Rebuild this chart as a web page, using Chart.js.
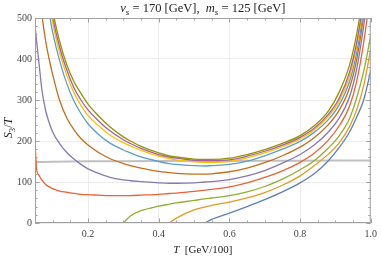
<!DOCTYPE html>
<html>
<head>
<meta charset="utf-8">
<script src="https://cdn.jsdelivr.net/npm/chart.js@4.4.1/dist/chart.umd.min.js"></script>
<style>
  html, body { margin: 0; padding: 0; background: #fff; }
  #wrap { width: 382px; height: 258px; }
</style>
</head>
<body>
<div id="wrap"><canvas id="bounce"></canvas></div>
<script>
// temperature grid (GeV/100) shared by all curves
const tGrid = [0.05, 0.055, 0.06, 0.07, 0.08, 0.09, 0.10, 0.12, 0.14, 0.16, 0.18, 0.20, 0.23, 0.26,
  0.30, 0.32, 0.35, 0.40, 0.43, 0.45, 0.50, 0.53, 0.55, 0.60, 0.65, 0.70, 0.75, 0.80, 0.84, 0.88,
  0.91, 0.94, 0.96, 0.98, 1.00];

// S3/T per curve (null = no solution there)
const sBlue = [null, null, null, null, null, null, null, null, null, null, null, null, null, null,
  null, null, null, null, null, null, null, 0, 9, 24, 40, 57, 76, 98, 120, 152, 183, 222, 258, 300, 372];
const sOrange = [null, null, null, null, null, null, null, null, null, null, null, null, null, null,
  null, null, null, null, 0, 12, 32, 39, 43, 51, 61, 74, 92, 115, 140, 168, 195, 235, 276, 335, 425];
const sGreen = [null, null, null, null, null, null, null, null, null, null, null, null, null, null,
  0, 17, 30, 41, 46, 49, 55, 59, 61, 67, 76, 89, 107, 130, 152, 183, 212, 255, 305, 370, 457];
const sRed = [195, 128, 118, 104, 94, 88, 84, 78, 75, 72, 70, 69, 68, 67, 67, 67, 68, 70, 72, 73,
  77, 80, 82, 88, 98, 111, 127, 148, 170, 202, 236, 285, 345, 440, 565];
const sPurple = [482, 440, 400, 322, 275, 245, 222, 193, 172, 156, 143, 132, 121, 112, 105, 103, 101,
  98, 97, 97, 98, 100, 101, 106, 115, 128, 146, 167, 190, 222, 255, 308, 375, 480, 610];
const sBrown = [720, 650, 590, 505, 445, 400, 362, 298, 256, 228, 206, 190, 172, 158, 145, 140, 134,
  126, 123, 121, 119, 119, 120, 125, 134, 147, 164, 185, 208, 240, 274, 330, 398, 505, 640];
const sLightBlue = [900, 820, 750, 640, 560, 512, 465, 395, 340, 298, 267, 242, 216, 196, 178, 171, 161,
  150, 145, 143, 140, 139, 140, 143, 151, 164, 180, 199, 221, 252, 287, 345, 415, 520, 650];
const sYellow = [960, 880, 800, 690, 610, 555, 490, 415, 360, 318, 287, 262, 237, 216, 196, 188, 177,
  163, 157, 154, 149, 148, 148, 150, 159, 171, 186, 205, 227, 260, 296, 358, 430, 535, 660];
const sMagenta = [990, 910, 830, 720, 630, 575, 505, 428, 373, 330, 300, 276, 249, 226, 203, 194, 182,
  167, 161, 158, 153, 152, 152, 154, 163, 175, 190, 209, 231, 265, 303, 368, 440, 545, 670];
const sOlive = [1000, 930, 860, 740, 650, 595, 522, 442, 386, 345, 316, 290, 261, 236, 210, 200, 187,
  171, 164, 161, 156, 155, 155, 158, 167, 179, 194, 213, 237, 273, 318, 385, 460, 565, 690];

// reference line
const tRef = [0.05, 0.10, 0.20, 0.40, 0.60, 0.80, 1.00];
const sRef = [148.5, 149.5, 150.5, 151, 151.5, 152, 152.5];

const xTicks = [0.2, 0.4, 0.6, 0.8, 1.0];
const yTicks = [0, 100, 200, 300, 400, 500];

const curves = [
  { s: sBlue, color: '#5E81B5' },
  { s: sOrange, color: '#E19C24' },
  { s: sGreen, color: '#8FB032' },
  { s: sRed, color: '#EB6235' },
  { s: sPurple, color: '#8778B3' },
  { s: sBrown, color: '#C56E1A' },
  { s: sLightBlue, color: '#5D9EC7' },
  { s: sYellow, color: '#FFBF00' },
  { s: sMagenta, color: '#A5609D' },
  { s: sOlive, color: '#929600' }
];

const SERIF = '"Liberation Serif", "DejaVu Serif", serif';

const datasets = curves.map((c, i) => ({
  data: tGrid.map((t, k) => ({ x: t, y: c.s[k] })),
  borderColor: c.color,
  borderWidth: 1.3,
  pointRadius: 0,
  cubicInterpolationMode: 'monotone',
  order: curves.length - i
}));
datasets.push({
  data: tRef.map((t, k) => ({ x: t, y: sRef[k] })),
  borderColor: 'rgba(185,185,185,0.9)',
  borderWidth: 2,
  pointRadius: 0,
  tension: 0.3,
  order: 50
});

// mixed italic / subscript text
function drawRich(ctx, parts, cx, cy, size) {
  const fontOf = st => {
    const it = st.indexOf('i') >= 0 ? 'italic ' : '';
    const sz = st.indexOf('s') >= 0 ? size * 0.72 : size;
    return it + sz + 'px ' + SERIF;
  };
  let w = 0;
  parts.forEach(p => { ctx.font = fontOf(p[1]); w += ctx.measureText(p[0]).width; });
  let x = cx - w / 2;
  ctx.textBaseline = 'alphabetic';
  ctx.textAlign = 'left';
  parts.forEach(p => {
    ctx.font = fontOf(p[1]);
    const dy = p[1].indexOf('s') >= 0 ? size * 0.25 : 0;
    ctx.fillText(p[0], x, cy + dy);
    x += ctx.measureText(p[0]).width;
  });
}

const framePlugin = {
  id: 'frame',
  afterDatasetsDraw(chart) {
    const { ctx, chartArea: a, scales } = chart;
    const xs = scales.x, ys = scales.y;
    ctx.save();
    ctx.strokeStyle = '#a0a0a0';
    ctx.lineWidth = 1;
    ctx.strokeRect(a.left + 0.5, a.top + 0.5, a.right - a.left - 1, a.bottom - a.top - 1);
    // ticks, inward, on all four sides
    ctx.beginPath();
    for (let v = 0; v <= 500; v += 20) {
      const y = Math.round(ys.getPixelForValue(v)) + 0.5;
      const len = v % 100 === 0 ? 4.5 : 2.5;
      ctx.moveTo(a.left, y); ctx.lineTo(a.left + len, y);
      ctx.moveTo(a.right, y); ctx.lineTo(a.right - len, y);
    }
    for (let k = 2; k <= 20; k++) {
      const v = k * 0.05;
      const x = Math.round(xs.getPixelForValue(v)) + 0.5;
      const len = k % 4 === 0 ? 4.5 : 2.5;
      ctx.moveTo(x, a.bottom); ctx.lineTo(x, a.bottom - len);
      ctx.moveTo(x, a.top); ctx.lineTo(x, a.top + len);
    }
    ctx.stroke();

    ctx.fillStyle = '#222';
    const mid = (a.left + a.right) / 2;
    drawRich(ctx, [['v', 'i'], ['s', 'si'], [' = 170 [GeV],  ', 'r'], ['m', 'i'], ['s', 'si'], [' = 125 [GeV]', 'r']],
      mid, 11.5, 12.5);
    drawRich(ctx, [['T', 'i'], ['  [GeV/100]', 'r']], mid, 253, 11);
    ctx.translate(12, 128);
    ctx.rotate(-Math.PI / 2);
    drawRich(ctx, [['S', 'i'], ['3', 'sr'], ['/', 'r'], ['T', 'i']], 0, 0, 12);
    ctx.restore();
  }
};

new Chart(document.getElementById('bounce'), {
  type: 'line',
  data: { datasets: datasets },
  plugins: [framePlugin],
  options: {
    responsive: true,
    maintainAspectRatio: false,
    animation: false,
    layout: { padding: { top: 18, right: 6, left: 0, bottom: 0 } },
    plugins: { legend: { display: false }, tooltip: { enabled: false }, title: { display: false } },
    scales: {
      x: {
        type: 'linear',
        min: 0.05,
        max: 1.0,
        afterBuildTicks: s => { s.ticks = xTicks.map(v => ({ value: v })); },
        afterFit: s => { s.height = 35; },
        ticks: {
          callback: v => v.toFixed(1),
          font: { family: SERIF, size: 10 },
          color: '#444',
          padding: 5,
          maxRotation: 0
        },
        grid: { color: '#ececec', drawTicks: false },
        border: { display: false }
      },
      y: {
        type: 'linear',
        min: 0,
        max: 500,
        afterBuildTicks: s => { s.ticks = yTicks.map(v => ({ value: v })); },
        afterFit: s => { s.width = 35; },
        ticks: {
          font: { family: SERIF, size: 10 },
          color: '#444',
          padding: 3
        },
        grid: { color: '#ececec', drawTicks: false },
        border: { display: false }
      }
    }
  }
});
</script>
</body>
</html>
